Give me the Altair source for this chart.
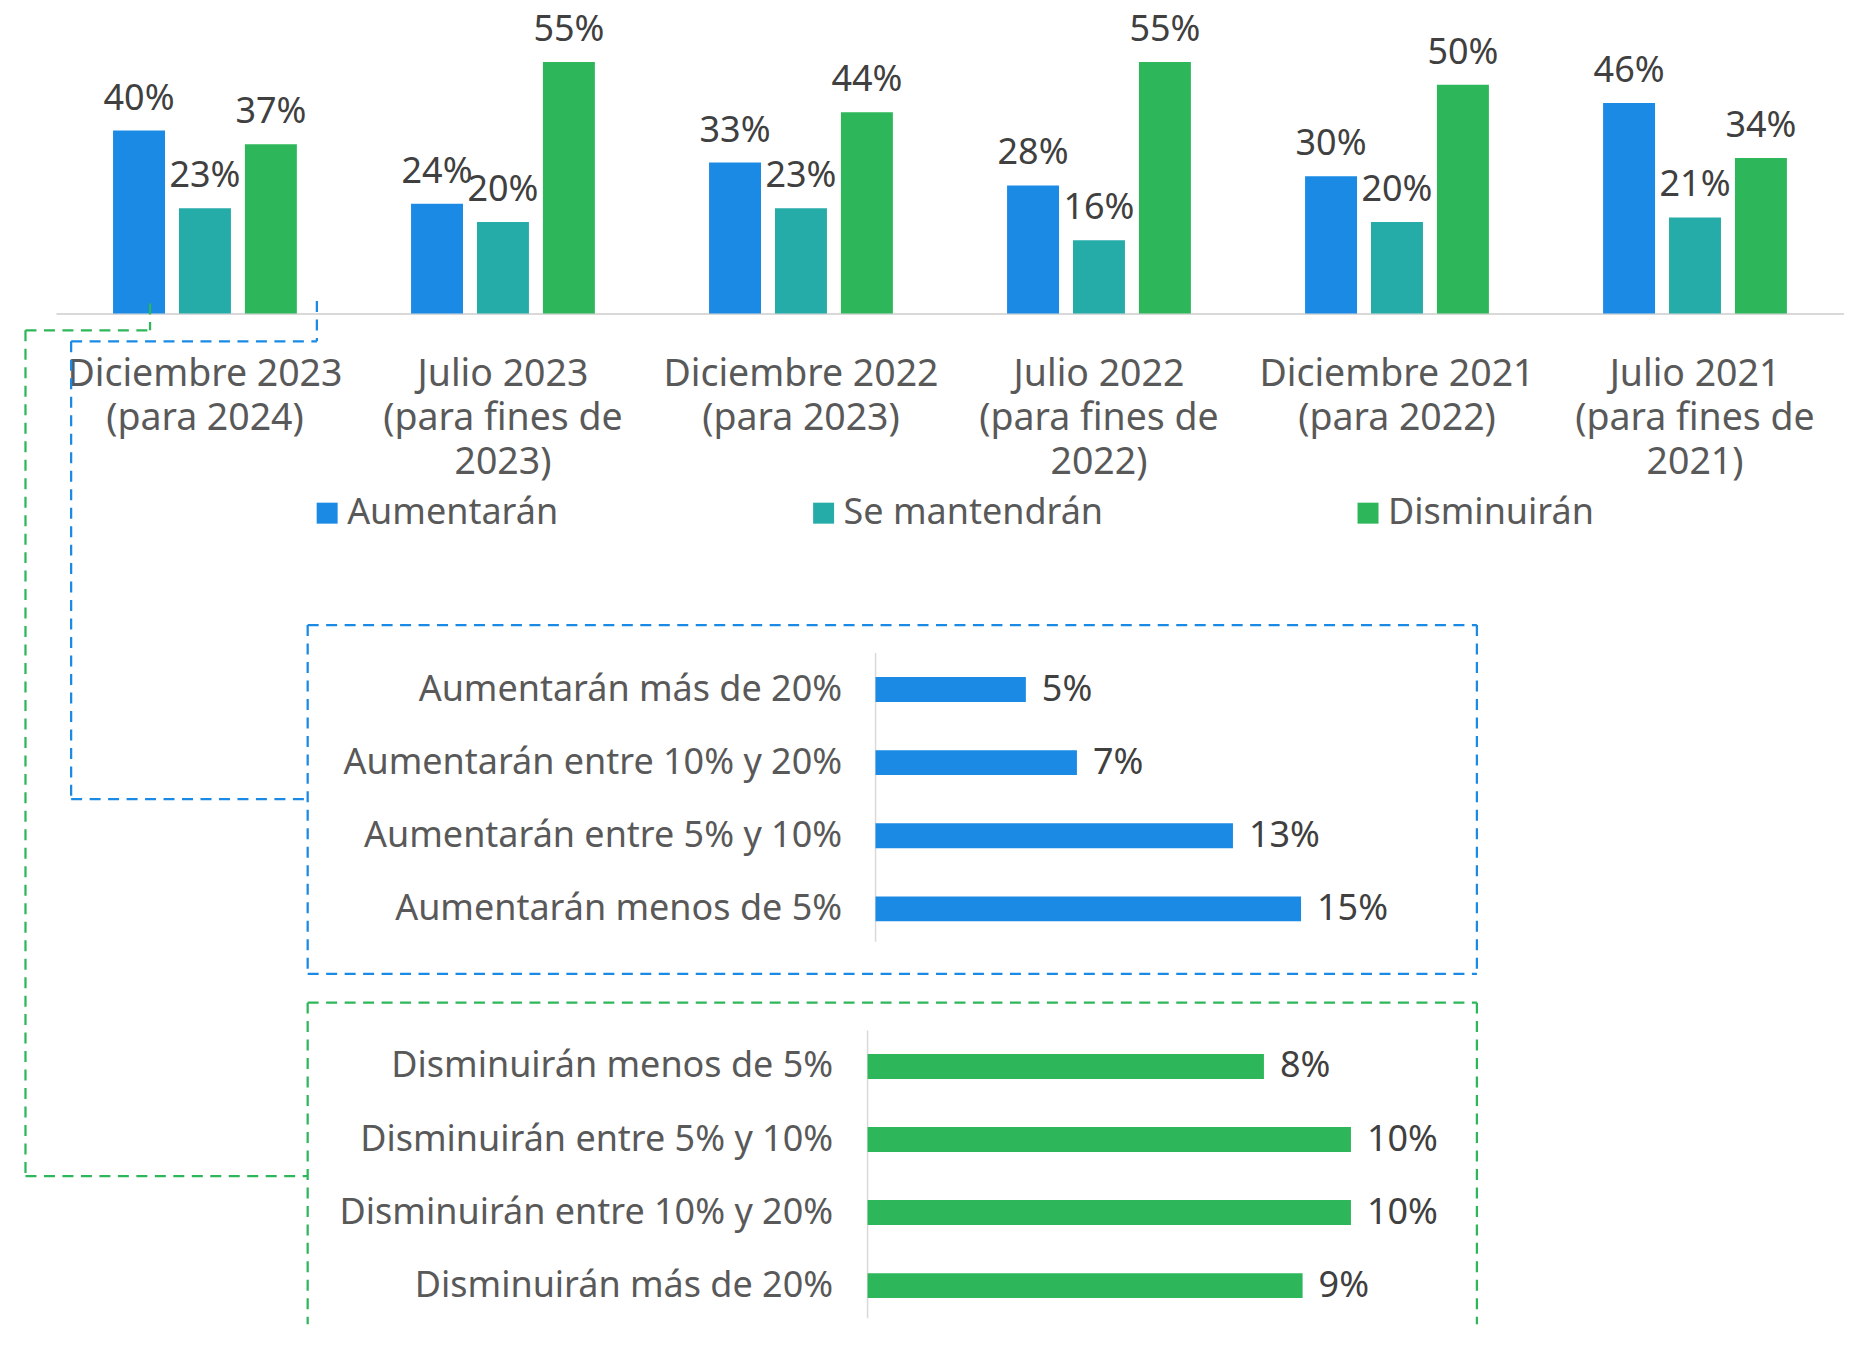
import altair as alt
import pandas as pd

FONT = "Noto Sans"
TEXT = "#404040"
LABEL = "#595959"
BLUE = "#1A8AE5"
TEAL = "#26ACA8"
GREEN = "#2EB75A"
AXIS = "#D9D9D9"

# ---------------- data ----------------
periods = [
    "Diciembre 2023\n(para 2024)",
    "Julio 2023\n(para fines de\n2023)",
    "Diciembre 2022\n(para 2023)",
    "Julio 2022\n(para fines de\n2022)",
    "Diciembre 2021\n(para 2022)",
    "Julio 2021\n(para fines de\n2021)",
]
series = ["Aumentarán", "Se mantendrán", "Disminuirán"]
aumentaran = [40, 24, 33, 28, 30, 46]
mantendran = [23, 20, 23, 16, 20, 21]
disminuiran = [37, 55, 44, 55, 50, 34]

up_cats = [
    "Aumentarán más de 20%",
    "Aumentarán entre 10% y 20%",
    "Aumentarán entre 5% y 10%",
    "Aumentarán menos de 5%",
]
up_vals = [5.3, 7.1, 12.6, 15.0]       # bar lengths
up_labels = ["5%", "7%", "13%", "15%"]

down_cats = [
    "Disminuirán menos de 5%",
    "Disminuirán entre 5% y 10%",
    "Disminuirán entre 10% y 20%",
    "Disminuirán más de 20%",
]
down_vals = [8.2, 10.0, 10.0, 9.0]
down_labels = ["8%", "10%", "10%", "9%"]

rows = []
for i, p in enumerate(periods):
    for s, vals in zip(series, [aumentaran, mantendran, disminuiran]):
        rows.append({"periodo": p, "serie": s, "valor": vals[i], "lbl": f"{vals[i]}%"})
top_df = pd.DataFrame(rows)
up_df = pd.DataFrame({"cat": up_cats, "v": up_vals, "lbl": up_labels})
down_df = pd.DataFrame({"cat": down_cats, "v": down_vals, "lbl": down_labels})
one = pd.DataFrame({"k": [0]})

W = 1790
HA, HB, HC = 592, 390, 335

# ---------------- top grouped bars ----------------
base_top = alt.Chart(top_df).encode(
    x=alt.X(
        "periodo:N",
        sort=periods,
        scale=alt.Scale(paddingInner=0, paddingOuter=0),
        axis=alt.Axis(
            title=None, labelAngle=0, labelFont=FONT, labelFontSize=37.5,
            labelColor=LABEL, labelLineHeight=44, labelBaseline="top",
            labelExpr="split(datum.label, '\\n')", labelLimit=1000,
            ticks=False, tickSize=0, domainColor=AXIS, domainWidth=2,
            labelPadding=42, offset=-287, labelOverlap=False,
        ),
    ),
    xOffset=alt.XOffset(
        "serie:N", sort=series,
        scale=alt.Scale(paddingInner=0.212, paddingOuter=0.866),
    ),
    y=alt.Y("valor:Q", scale=alt.Scale(domain=[-62.7, 66.64], nice=False), axis=None),
)

bars_top = base_top.mark_bar().encode(
    color=alt.Color(
        "serie:N", sort=series,
        scale=alt.Scale(domain=series, range=[BLUE, TEAL, GREEN]),
        legend=alt.Legend(
            title=None, orient="none", legendX=253.5, legendY=487,
            direction="horizontal", symbolType="square", symbolSize=441,
            symbolStrokeWidth=0, labelFont=FONT, labelFontSize=36,
            labelColor=LABEL, labelOffset=2, columnPadding=247,
            labelLimit=1000, padding=0,
        ),
    )
)
labels_top = base_top.mark_text(
    font=FONT, fontSize=36, color=TEXT, baseline="alphabetic", dy=-21
).encode(text="lbl:N")

panel_a = alt.layer(bars_top, labels_top).properties(width=W, height=HA)


def seg_v(x, y1, y2, color):
    return alt.Chart(one).mark_rule(
        color=color, strokeWidth=2.25, strokeDash=[11, 7.5]
    ).encode(x=alt.value(x), y=alt.value(y1), y2=alt.value(y2))


def seg_h(y, x1, x2, color):
    return alt.Chart(one).mark_rule(
        color=color, strokeWidth=2.25, strokeDash=[11, 7.5]
    ).encode(y=alt.value(y), x=alt.value(x1), x2=alt.value(x2))


# decorative dashed frames and connectors, in pixels of the middle panel
decor = [
    # blue box
    seg_h(25, 252, 1422.5, BLUE),
    seg_h(374.3, 252, 1422.5, BLUE),
    seg_v(252, 25, 374.3, BLUE),
    seg_v(1422.5, 25, 374.3, BLUE),
    # green box (open at the bottom)
    seg_h(403, 252, 1422.5, GREEN),
    seg_v(252, 403, 725, GREEN),
    seg_v(1422.5, 403, 725, GREEN),
    # blue connector
    seg_v(261.2, -299.3, -259, BLUE),
    seg_h(-259, 15.2, 261.2, BLUE),
    seg_v(15.2, -259, 199.3, BLUE),
    seg_h(199.3, 15.2, 252, BLUE),
    # green connector
    seg_v(94.2, -297, -270, GREEN),
    seg_h(-270, -30.5, 94.2, GREEN),
    seg_v(-30.5, -270, 576.7, GREEN),
    seg_h(576.7, -30.5, 252, GREEN),
]


# ---------------- breakdown panels ----------------
def breakdown(df, cats, color, domain, pad_outer, align, offset, label_pad, rule_x, rule_y, extra):
    base = alt.Chart(df).encode(
        y=alt.Y(
            "cat:N", sort=cats,
            scale=alt.Scale(paddingInner=0.66, paddingOuter=pad_outer, align=align),
            axis=alt.Axis(
                title=None, domain=False, ticks=False, tickSize=0,
                labelPadding=label_pad, offset=offset, labelFont=FONT,
                labelFontSize=36, labelColor=LABEL, labelLimit=1000,
            ),
        ),
        x=alt.X("v:Q", scale=alt.Scale(domain=domain, nice=False), axis=None),
    )
    b = base.mark_bar(color=color)
    t = base.mark_text(
        align="left", baseline="middle", dx=16, font=FONT, fontSize=36, color=TEXT
    ).encode(text="lbl:N")
    r = alt.Chart(one).mark_rule(color=AXIS, strokeWidth=1.5).encode(
        x=alt.value(rule_x), y=alt.value(rule_y[0]), y2=alt.value(rule_y[1])
    )
    return alt.layer(r, b, t, *extra)


panel_b = breakdown(
    up_df, up_cats, BLUE, [-28.89, 34.14], 0.994, 0.53, -820.5, 34, 820.5, (53, 342), decor
).properties(width=W, height=HB)

panel_c = breakdown(
    down_df, down_cats, GREEN, [-16.79, 20.2], 0.6215, 0.71, -812.5, 35, 812.5, (41, 329), []
).properties(width=W, height=HC)

chart = alt.vconcat(panel_a, panel_b, panel_c, spacing=0, bounds="flush").properties(
    padding={"left": 16, "top": 0, "right": 0, "bottom": 0}
).configure(font=FONT).configure_view(strokeOpacity=0)

chart.save("out.html", embed_options={"renderer": "svg", "actions": False})
